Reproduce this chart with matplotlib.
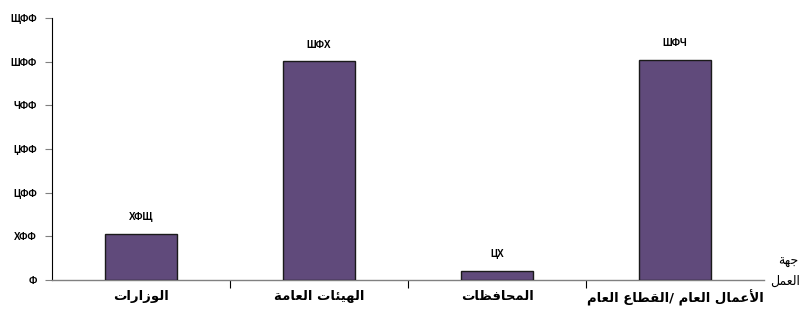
import matplotlib
matplotlib.use('Agg')
import matplotlib.pyplot as plt


categories = ['الوزارات', 'الهيئات العامة', 'المحافظات', 'الأعمال العام /القطاع العام']
values = [106, 501, 21, 504]
y_ticks = [0, 100, 200, 300, 400, 500, 600]
axis_title = ['جهة', 'العمل']

# digits show up as these glyphs in the source picture
DIGIT_GLYPHS = {'0': 'Ф', '1': 'Х', '2': 'Ц', '3': 'Џ', '4': 'Ч', '5': 'Ш', '6': 'Щ'}

BAR_COLOR = '#604a7b'


# isolated, final, initial, medial (None = no such form)
FORMS = {
    'ا': (0xFE8D, 0xFE8E, None, None),
    'أ': (0xFE83, 0xFE84, None, None),
    'ت': (0xFE95, 0xFE96, 0xFE97, 0xFE98),
    'ج': (0xFE9D, 0xFE9E, 0xFE9F, 0xFEA0),
    'ح': (0xFEA1, 0xFEA2, 0xFEA3, 0xFEA4),
    'ر': (0xFEAD, 0xFEAE, None, None),
    'ز': (0xFEAF, 0xFEB0, None, None),
    'ط': (0xFEC1, 0xFEC2, 0xFEC3, 0xFEC4),
    'ظ': (0xFEC5, 0xFEC6, 0xFEC7, 0xFEC8),
    'ع': (0xFEC9, 0xFECA, 0xFECB, 0xFECC),
    'ف': (0xFED1, 0xFED2, 0xFED3, 0xFED4),
    'ق': (0xFED5, 0xFED6, 0xFED7, 0xFED8),
    'ل': (0xFEDD, 0xFEDE, 0xFEDF, 0xFEE0),
    'م': (0xFEE1, 0xFEE2, 0xFEE3, 0xFEE4),
    'ه': (0xFEE9, 0xFEEA, 0xFEEB, 0xFEEC),
    'و': (0xFEED, 0xFEEE, None, None),
    'ي': (0xFEF1, 0xFEF2, 0xFEF3, 0xFEF4),
    'ئ': (0xFE89, 0xFE8A, 0xFE8B, 0xFE8C),
    'ة': (0xFE93, 0xFE94, None, None),
    'لا': (0xFEFB, 0xFEFC, None, None),
    'لأ': (0xFEF7, 0xFEF8, None, None),
}


def shape(text):
    # split into letters, merging lam-alef
    letters = []
    i = 0
    while i < len(text):
        if text[i] == 'ل' and i + 1 < len(text) and text[i + 1] in 'اأ':
            letters.append(text[i:i + 2])
            i += 2
        else:
            letters.append(text[i])
            i += 1
    out = []
    for k, ch in enumerate(letters):
        if ch not in FORMS:
            out.append(ch)
            continue
        prev = letters[k - 1] if k > 0 else None
        nxt = letters[k + 1] if k + 1 < len(letters) else None
        j_prev = prev in FORMS and FORMS[prev][2] is not None
        j_next = nxt in FORMS and FORMS[ch][2] is not None
        iso, fin, ini, med = FORMS[ch]
        if j_prev and j_next:
            c = med
        elif j_prev:
            c = fin
        elif j_next:
            c = ini
        else:
            c = iso
        out.append(chr(c))
    # visual order for a right-to-left line
    return ''.join(out)[::-1]


def fmt(v):
    return ''.join(DIGIT_GLYPHS[d] for d in str(v))


ARABIC_FONT = ['DejaVu Sans']
NUM_FONT = ['Liberation Sans', 'DejaVu Sans']

fig = plt.figure(figsize=(8.06, 3.16), dpi=100)
ax = fig.add_axes([52 / 806, 1 - 280 / 316, (764 - 52) / 806, (280 - 18) / 316])

x = list(range(len(categories)))
bars = ax.bar(x, values, width=0.4, color=BAR_COLOR, edgecolor='#1a1a1a', linewidth=1.0, zorder=3)

for xi, v in zip(x, values):
    ax.annotate(fmt(v), (xi, v), xytext=(0, 12), textcoords='offset points',
                ha='center', va='center', fontsize=7, fontweight='bold', family=NUM_FONT)

ax.set_xlim(-0.5, len(categories) - 0.5)
ax.set_ylim(0, 600)
ax.set_yticks(y_ticks)
ax.set_yticklabels([fmt(t) for t in y_ticks], fontsize=7, fontweight='bold', family=NUM_FONT)
ax.tick_params(axis='y', direction='out', length=5, width=0.8, color='#808080', pad=6)

# category boundaries as ticks, labels in the middle
ax.set_xticks([i + 0.5 for i in x[:-1]])
ax.set_xticklabels([])
ax.set_xticks(x, minor=True)
ax.set_xticklabels([shape(c) for c in categories], minor=True,
                   fontsize=9.5, fontweight='bold', family=ARABIC_FONT)
ax.tick_params(axis='x', which='major', direction='out', length=6, width=0.8, color='black')
ax.tick_params(axis='x', which='minor', length=0, pad=7)

for s in ['top', 'right']:
    ax.spines[s].set_visible(False)
ax.spines['left'].set_color('black')
ax.spines['left'].set_linewidth(0.8)
ax.spines['bottom'].set_color('#808080')
ax.spines['bottom'].set_linewidth(1.0)

fig.text(788 / 806, 1 - 262 / 316, shape(axis_title[0]), ha='center', va='center',
         fontsize=9, family=ARABIC_FONT)
fig.text(785 / 806, 1 - 281 / 316, shape(axis_title[1]), ha='center', va='center',
         fontsize=9, family=ARABIC_FONT)

fig.savefig('out.png', dpi=100)
